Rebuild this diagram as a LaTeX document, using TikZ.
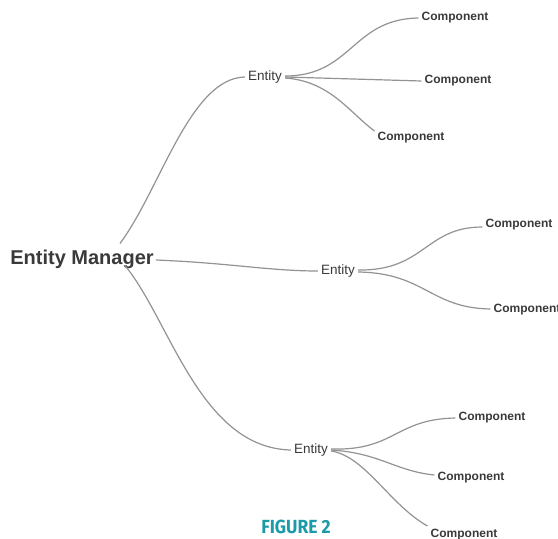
\documentclass[tikz,border=0pt]{standalone}
\usepackage{fontspec}
\setmainfont{Liberation Sans}
\newfontfamily\capfont{Fira Sans}
\usetikzlibrary{calc}
\definecolor{linkgray}{HTML}{939393}
\definecolor{labelgray}{HTML}{3A3A3A}
\definecolor{figteal}{HTML}{1B9AAA}
\begin{document}
\begin{tikzpicture}[x=1pt,y=-1pt,
  link/.style={draw=linkgray,line width=1.2pt},
  rootlabel/.style={font=\fontsize{20}{22}\selectfont\bfseries,text=labelgray,inner sep=0pt},
  entlabel/.style={font=\fontsize{13.5}{15}\selectfont,text=labelgray,inner sep=0pt},
  complabel/.style={font=\fontsize{12}{14}\selectfont\bfseries,text=labelgray,inner sep=0pt}]
\useasboundingbox (0,0) rectangle (558,539);
\fill[white] (0,0) rectangle (558,539);
\clip (0,0) rectangle (558,539);

% labels
\node[rootlabel] (em) at (82,259) {Entity Manager};
\node[entlabel] (e1) at (265,77) {Entity};
\node[entlabel] (e2) at (338,271) {Entity};
\node[entlabel] (e3) at (311,450) {Entity};

\node[complabel] (c1a) at (455,18) {Component};
\node[complabel] (c1b) at (458,81) {Component};
\node[complabel] (c1c) at (411,138) {Component};
\node[complabel] (c2a) at (519,225) {Component};
\node[complabel] (c2b) at (527,310) {Component};
\node[complabel] (c3a) at (492,418) {Component};
\node[complabel] (c3b) at (471,478) {Component};
\node[complabel] (c3c) at (464,535) {Component};

\node[font=\capfont\bfseries\fontsize{19}{21}\selectfont,text=figteal,inner sep=0pt,xscale=0.92] (fig) at (296,527) {FIGURE 2};

% links from the manager to its entities
\draw[link] ($(em.north)+(38,-6)$) .. controls (160,190) and (190,78) .. ($(e1.west)+(-3,0)$);
\draw[link] ($(em.east)+(2,1)$) .. controls (230,263) and (270,271) .. ($(e2.west)+(-3,0)$);
\draw[link] ($(em.south)+(43,-3)$) .. controls (170,320) and (200,448) .. ($(e3.west)+(-3,0)$);

% links from the entities to their components
\draw[link] ($(e1.east)+(3,-1)$) .. controls (352,76) and (352,19) .. ($(c1a.west)+(-3,0)$);
\draw[link] ($(e1.east)+(3,0)$) -- ($(c1b.west)+(-3,0)$);
\draw[link] ($(e1.east)+(3,1)$) .. controls (330,81) and (350,113) .. ($(c1c.west)+(-3,-7)$);

\draw[link] ($(e2.east)+(3,-1)$) .. controls (425,271) and (425,227) .. ($(c2a.west)+(-3,2)$);
\draw[link] ($(e2.east)+(3,1)$) .. controls (425,273) and (430,308) .. ($(c2b.west)+(-3,-1)$);

\draw[link] ($(e3.east)+(3,-1)$) .. controls (395,451) and (395,419) .. ($(c3a.west)+(-3,0)$);
\draw[link] ($(e3.east)+(3,0)$) .. controls (380,453) and (395,471) .. ($(c3b.west)+(-3,-3)$);
\draw[link] ($(e3.east)+(3,1)$) .. controls (365,456) and (390,505) .. ($(c3c.west)+(-3,-9)$);
\end{tikzpicture}
\end{document}
